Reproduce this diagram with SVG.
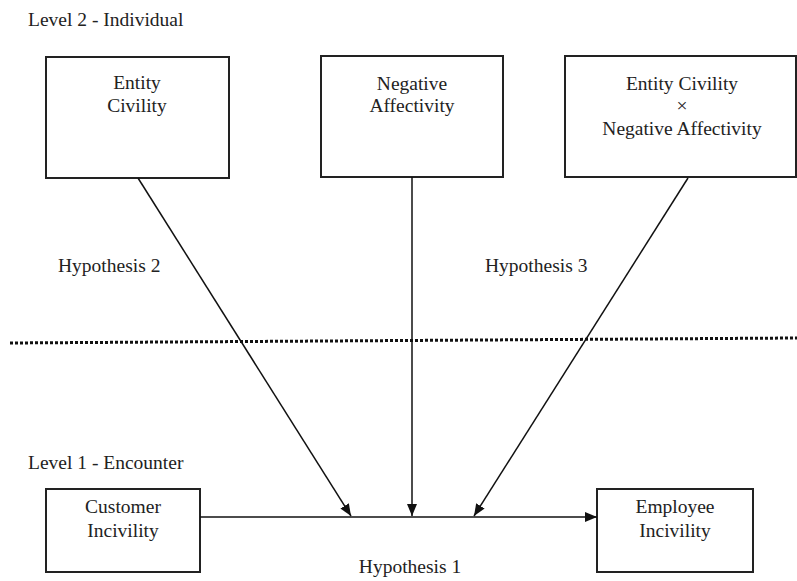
<svg xmlns="http://www.w3.org/2000/svg" width="797" height="581" viewBox="0 0 797 581">
<style>
text{font-size:19.5px;fill:#222}
.c{text-anchor:middle}
rect{fill:#fff;stroke:#222;stroke-width:2}
.ln{stroke:#111;stroke-width:1.5;fill:none}
.dot{stroke:#111;stroke-width:3;stroke-dasharray:3 2;fill:none}
</style>
<defs>
<marker id="ah" viewBox="0 0 12 10" refX="12" refY="5" markerWidth="12" markerHeight="10" markerUnits="userSpaceOnUse" orient="auto">
<path d="M0,0 L12,5 L0,10 Z" fill="#111"/>
</marker>
</defs>
<text font-family="Liberation Serif" x="28" y="26">Level 2 - Individual</text>
<text font-family="Liberation Serif" x="28" y="469">Level 1 - Encounter</text>
<g id="entity-civility">
<rect x="46" y="57" width="183" height="121"/>
<text font-family="Liberation Serif" class="c" x="137" y="89">Entity</text>
<text font-family="Liberation Serif" class="c" x="137" y="112">Civility</text>
</g>
<g id="negative-affectivity">
<rect x="321" y="56" width="182" height="121"/>
<text font-family="Liberation Serif" class="c" x="412" y="90">Negative</text>
<text font-family="Liberation Serif" class="c" x="412" y="112">Affectivity</text>
</g>
<g id="interaction">
<rect x="565" y="56" width="231" height="121"/>
<text font-family="Liberation Serif" class="c" x="682" y="90">Entity Civility</text>
<text font-family="Liberation Serif" class="c" x="682" y="112">×</text>
<text font-family="Liberation Serif" class="c" x="682" y="135">Negative Affectivity</text>
</g>
<g id="customer-incivility">
<rect x="46" y="489" width="154" height="83"/>
<text font-family="Liberation Serif" class="c" x="123" y="513">Customer</text>
<text font-family="Liberation Serif" class="c" x="123" y="537">Incivility</text>
</g>
<g id="employee-incivility">
<rect x="597" y="489" width="156" height="83"/>
<text font-family="Liberation Serif" class="c" x="675" y="513">Employee</text>
<text font-family="Liberation Serif" class="c" x="675" y="537">Incivility</text>
</g>
<g id="connectors">
<line class="dot" x1="10" y1="343" x2="797" y2="338"/>
<line class="ln" x1="200" y1="517" x2="597" y2="517" marker-end="url(#ah)"/>
<line class="ln" x1="138" y1="178" x2="351" y2="516" marker-end="url(#ah)"/>
<line class="ln" x1="412" y1="177" x2="412" y2="516" marker-end="url(#ah)"/>
<line class="ln" x1="688" y1="178" x2="474" y2="516" marker-end="url(#ah)"/>
</g>
<text font-family="Liberation Serif" x="58" y="272">Hypothesis 2</text>
<text font-family="Liberation Serif" x="485" y="272">Hypothesis 3</text>
<text font-family="Liberation Serif" class="c" x="410" y="573">Hypothesis 1</text>
</svg>
